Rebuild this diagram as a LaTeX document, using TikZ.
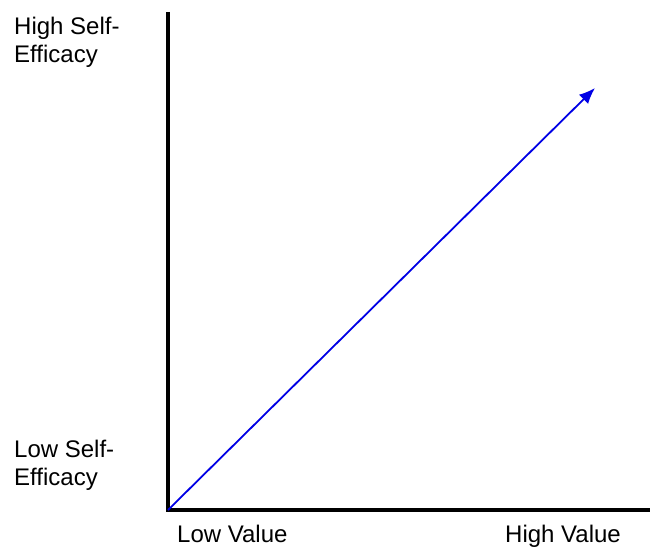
\documentclass[tikz,border=0pt]{standalone}
\usepackage{fontspec}
\setmainfont{Liberation Sans}
\usepackage{tikz}
\usetikzlibrary{arrows.meta}

\begin{document}
\begin{tikzpicture}[x=1pt,y=-1pt,
    axis/.style={line width=4pt},
    lbl/.style={inner sep=0pt,font=\fontsize{24}{28}\selectfont,align=left}]
  \useasboundingbox (0,0) rectangle (650,548);
  % Axes
  \coordinate (origin) at (168,510);
  \coordinate (ytop) at (168,12);
  \coordinate (xend) at (650,510);
  \coordinate (tip) at (595,88);
  \draw[axis] (ytop) -- (origin) -- (xend);
  % Arrow
  \draw[->,>={Latex[length=16pt,width=13pt]},line width=1.8pt,blue!90!black] (origin) -- (tip);
  % Labels
  \node[lbl,anchor=base west] (highse) at (14,63) {High Self-\\Efficacy};
  \node[lbl,anchor=base west] (lowse) at (14,485) {Low Self-\\Efficacy};
  \node[lbl,anchor=base west] (lowv) at (177,542) {Low Value};
  \node[lbl,anchor=base west] (highv) at (505,542) {High Value};
\end{tikzpicture}
\end{document}
